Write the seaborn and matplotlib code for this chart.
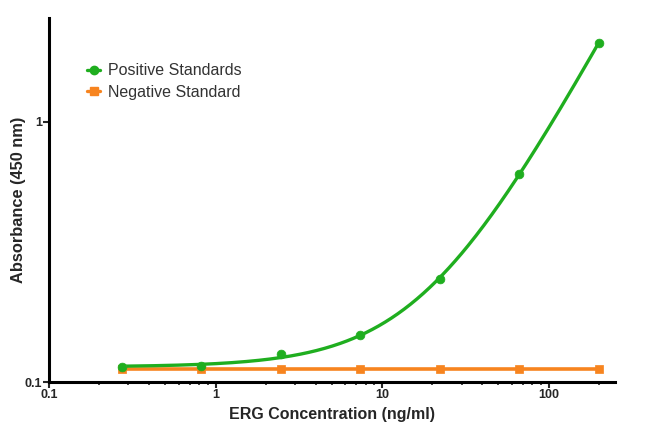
import numpy as np
import pandas as pd
import matplotlib
matplotlib.use("Agg")
import matplotlib.pyplot as plt
import seaborn as sns
from matplotlib.lines import Line2D
from matplotlib.ticker import FixedLocator, NullLocator, LogLocator

# data
conc = [0.274, 0.823, 2.47, 7.41, 22.2, 66.7, 200.0]
positive = [0.114, 0.115, 0.128, 0.152, 0.249, 0.631, 2.01]
negative = [0.112, 0.112, 0.112, 0.112, 0.112, 0.112, 0.112]

green = "#1fae1f"
orange = "#f7841f"

sns.set_style("white")
plt.rcParams["font.family"] = ["Liberation Sans", "DejaVu Sans"]

df = pd.DataFrame({"conc": conc, "pos": positive, "neg": negative})

# 4PL fit of the positive standards: grid over slope/EC50, linear LSQ for the asymptotes
x = df["conc"].to_numpy()
y = df["pos"].to_numpy()
best = None
for b in np.linspace(0.5, 2.5, 81):
    for c in np.logspace(0, 4, 161):
        f = 1 / (1 + (x / c) ** b)
        A = np.column_stack([f, 1 - f]) / y[:, None]
        coef, *_ = np.linalg.lstsq(A, np.ones_like(y), rcond=None)
        err = np.sum((A @ coef - 1) ** 2)
        if best is None or err < best[0]:
            best = (err, b, c, coef)
_, b, c, (a, d) = best
xs = np.logspace(np.log10(x.min()), np.log10(x.max()), 300)
fit = pd.DataFrame({"conc": xs, "pos": d + (a - d) / (1 + (xs / c) ** b)})

fig = plt.figure(figsize=(6.5, 4.32), dpi=100)
ax = fig.add_axes([0.0754, 0.1157, 0.8706, 0.8423])

sns.lineplot(data=df, x="conc", y="neg", color=orange, lw=2.6, ax=ax)
sns.scatterplot(data=df, x="conc", y="neg", color=orange, marker="s",
                s=40, edgecolor=orange, ax=ax, zorder=3)
sns.lineplot(data=fit, x="conc", y="pos", color=green, lw=2.4, ax=ax)
sns.scatterplot(data=df, x="conc", y="pos", color=green, marker="o",
                s=40, edgecolor=green, ax=ax, zorder=4)

ax.set_xscale("log")
ax.set_yscale("log")
ax.set_xlim(0.1, 250)
ax.set_ylim(0.1, 2.5)

ax.xaxis.set_major_locator(FixedLocator([0.1, 1, 10, 100]))
ax.xaxis.set_minor_locator(LogLocator(base=10, subs=np.arange(2, 10)))
ax.set_xticklabels(["0.1", "1", "10", "100"])
ax.yaxis.set_major_locator(FixedLocator([0.1, 1]))
ax.yaxis.set_minor_locator(NullLocator())
ax.set_yticklabels(["0.1", "1"])

for s in ["top", "right"]:
    ax.spines[s].set_visible(False)
for s in ["left", "bottom"]:
    ax.spines[s].set_linewidth(2.2)
    ax.spines[s].set_color("black")

ax.tick_params(axis="both", which="major", direction="out", length=4, width=1.5,
               labelsize=9, pad=1, left=True, bottom=True)
ax.tick_params(axis="x", which="minor", direction="out", length=2.5, width=1.2,
               bottom=True)
for lab in ax.get_xticklabels() + ax.get_yticklabels():
    lab.set_fontweight("bold")

ax.set_xlabel("ERG Concentration (ng/ml)", fontsize=11.5, fontweight="bold", labelpad=4)
ax.set_ylabel("Absorbance (450 nm)", fontsize=11.8, fontweight="bold")
ax.yaxis.set_label_coords(-0.041, 0.5)

handles = [
    Line2D([0], [0], color=green, marker="o", lw=2.4, markersize=6),
    Line2D([0], [0], color=orange, marker="s", lw=2.4, markersize=6),
]
ax.legend(handles, ["Positive Standards", "Negative Standard"], loc="upper left",
          bbox_to_anchor=(0.042, 0.915), frameon=False, fontsize=11.5,
          handlelength=0.8, handletextpad=0.5, labelspacing=0.4,
          labelcolor="#333333")

fig.savefig("out.png", dpi=100)
